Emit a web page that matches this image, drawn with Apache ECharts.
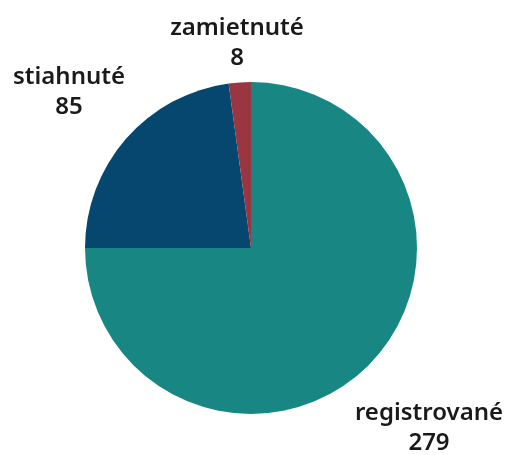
<!DOCTYPE html>
<html>
<head>
<meta charset="utf-8">
<script src="https://cdn.jsdelivr.net/npm/echarts@6/dist/echarts.min.js"></script>
<style>
  html, body { margin: 0; padding: 0; background: #fff; }
  #chart { width: 510px; height: 455px; }
</style>
</head>
<body>
<div id="chart"></div>
<script>
// data
const categories = ['registrované', 'stiahnuté', 'zamietnuté'];
const values = [279, 85, 8];
const colors = ['#188784', '#05476f', '#9a3642'];

// where each label sits (label centre, px)
const labelPos = [[429, 428], [69, 92], [237, 43]];

const chart = echarts.init(document.getElementById('chart'));

const option = {
  animation: false,
  series: [
    {
      type: 'pie',
      center: [251, 248],
      radius: 166,
      startAngle: 90,
      clockwise: true,
      data: categories.map((name, i) => ({
        name: name,
        value: values[i],
        itemStyle: { color: colors[i] }
      })),
      label: {
        show: true,
        position: 'outside',
        formatter: '{b}\n{c}',
        fontFamily: 'Noto Sans',
        fontWeight: 600,
        fontSize: 24,
        lineHeight: 30,
        color: '#1a1a1a',
        align: 'center',
        overflow: 'none'
      },
      labelLine: { show: false },
      labelLayout: function (params) {
        const p = labelPos[params.dataIndex];
        return { x: p[0], y: p[1], align: 'center', verticalAlign: 'middle' };
      }
    }
  ]
};

chart.setOption(option);
</script>
</body>
</html>
